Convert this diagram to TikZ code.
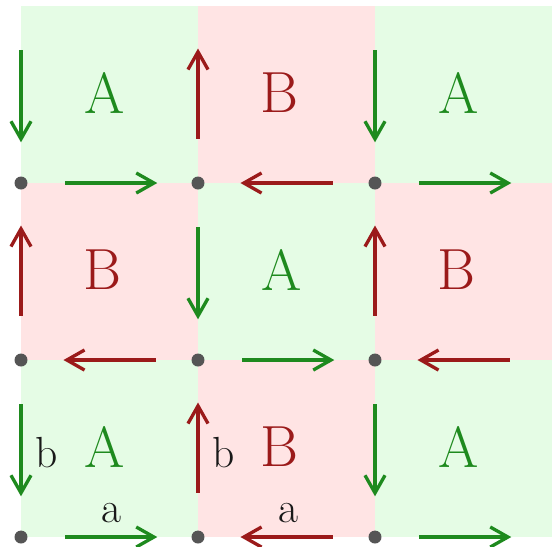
\documentclass[tikz,border=0pt]{standalone}
\usepackage{tikz}
\usetikzlibrary{arrows.meta}
\definecolor{cellA}{HTML}{E5FCE5}
\definecolor{cellB}{HTML}{FFE4E4}
\definecolor{edgeA}{HTML}{1E8A1E}
\definecolor{edgeB}{HTML}{9B1A1A}
\definecolor{vert}{HTML}{555555}

\begin{document}
\begin{tikzpicture}[x=3cm, y=3cm,
    arr/.style={-{Straight Barb[length=3mm,width=3.4mm]}, line width=1.6pt},
    lbl/.style={font=\fontsize{28}{30}\selectfont},
    side/.style={font=\fontsize{21}{24}\selectfont, text=black!90},
    dot/.style={circle, fill=vert, inner sep=0pt, minimum size=2.2mm}]
  \useasboundingbox (-0.1186,-0.051) rectangle (3,3.034);
  % cells, labels and edge arrows
  \foreach \i in {0,1,2}{
    \foreach \j in {0,1,2}{
      \pgfmathtruncatemacro{\odd}{mod(\i+\j,2)}
      \ifnum\odd=0
        \fill[cellA] (\i,\j) rectangle ++(1,1);
        \node[lbl, text=edgeA] (cell-\i-\j) at (\i+0.47,\j+0.51) {A};
        \draw[arr, edgeA] (\i,\j+0.75) -- (\i,\j+0.23);
        \draw[arr, edgeA] (\i+0.25,\j) -- (\i+0.77,\j);
      \else
        \fill[cellB] (\i,\j) rectangle ++(1,1);
        \node[lbl, text=edgeB] (cell-\i-\j) at (\i+0.46,\j+0.51) {B};
        \draw[arr, edgeB] (\i,\j+0.25) -- (\i,\j+0.76);
        \draw[arr, edgeB] (\i+0.76,\j) -- (\i+0.24,\j);
      \fi
    }
  }
  % vertices
  \foreach \i in {0,1,2}{
    \foreach \j in {0,1,2}{
      \node[dot] (v-\i-\j) at (\i,\j) {};
    }
  }
  % edge names
  \node[side] (b-0) at (0.147,0.48) {b};
  \node[side] (a-0) at (0.51,0.135) {a};
  \node[side] (b-1) at (1.147,0.48) {b};
  \node[side] (a-1) at (1.51,0.135) {a};
\end{tikzpicture}
\end{document}
